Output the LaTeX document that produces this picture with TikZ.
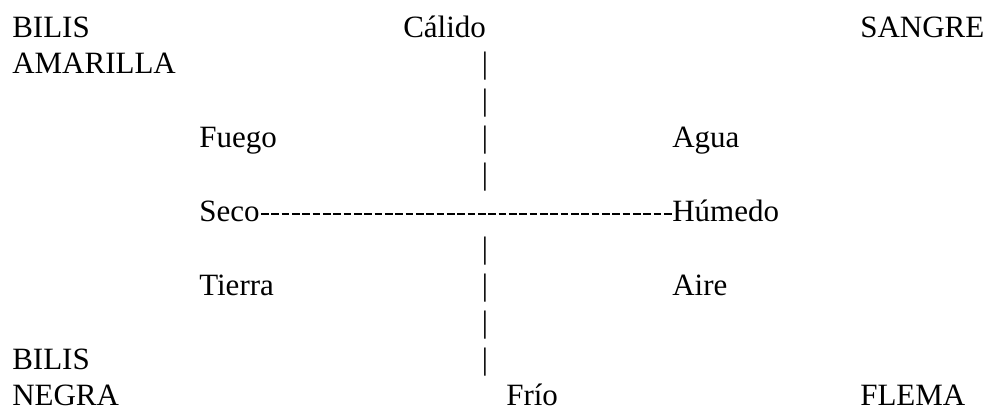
\documentclass[tikz,border=0pt]{standalone}
\usepackage{fontspec}
\setmainfont{Liberation Serif}
\tikzset{
  word/.style={inner sep=0pt, anchor=base west},
  vbar/.style={inner sep=0pt, anchor=base},
  hyphenline/.style={line width=1.5pt, dash pattern=on 5.7pt off 2.05pt, dash phase=6.85pt}
}
\begin{document}
\fontsize{23.25}{28}\selectfont
\begin{tikzpicture}[x=0.75pt, y=-0.75pt]
                \useasboundingbox (0,0) rectangle (986,408);
                % corners
                \node[word] (bilisA) at (12,37) {BILIS};
                \node[word] (amarilla) at (12,73.9) {AMARILLA};
                \node[word] (sangre) at (860,37) {SANGRE};
                \node[word] (bilisN) at (12,369.1) {BILIS};
                \node[word] (negra) at (12,405.5) {NEGRA};
                \node[word] (flema) at (860,405.5) {FLEMA};
                % axis ends
                \node[word] (calido) at (403,37) {Cálido};
                \node[word] (frio) at (506,405.5) {Frío};
                \node[word] (seco) at (199,221.5) {Seco};
                \node[word] (humedo) at (672,221.5) {Húmedo};
                % elements
                \node[word] (fuego) at (199,147.7) {Fuego};
                \node[word] (agua) at (672,147.7) {Agua};
                \node[word] (tierra) at (199,295.3) {Tierra};
                \node[word] (aire) at (672,295.3) {Aire};
                
                \foreach \k in {1,2,3,4,6,7,8,9} {
                    \node[vbar] (bar\k) at (485,37+36.9*\k) {|};
                }
                
                \draw[hyphenline] (seco.mid east) -- (humedo.mid west);
            \end{tikzpicture}
\end{document}
